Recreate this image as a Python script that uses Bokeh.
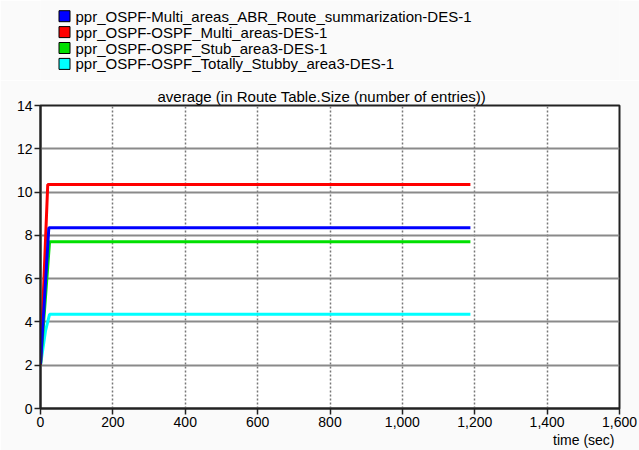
from bokeh.plotting import figure
from bokeh.layouts import column
from bokeh.models import Title, FixedTicker, CustomJSTickFormatter, ColumnDataSource
from bokeh.embed import file_html
from bokeh.resources import INLINE

names = ["ppr_OSPF-Multi_areas_ABR_Route_summarization-DES-1",
         "ppr_OSPF-OSPF_Multi_areas-DES-1",
         "ppr_OSPF-OSPF_Stub_area3-DES-1",
         "ppr_OSPF-OSPF_Totally_Stubby_area3-DES-1"]
colors = ["#0000ff", "#ff0000", "#00e000", "#00ffff"]
title_text = "average (in Route Table.Size (number of entries))"
x_title = "time (sec)"

blue_t = [0, 23, 1188]
blue_v = [2.05, 8.35, 8.35]
red_t = [0, 20, 1188]
red_v = [2.0, 10.35, 10.35]
green_t = [0, 25, 1188]
green_v = [2.0, 7.7, 7.7]
cyan_t = [0, 14, 25, 1188]
cyan_v = [2.0, 3.6, 4.35, 4.35]

xticks = [0, 200, 400, 600, 800, 1000, 1200, 1400, 1600]
yticks = [0, 2, 4, 6, 8, 10, 12, 14]

font = "Liberation Sans"
BG = "#fafafa"
W = 639
ML, MR = 40, 20

# ---- header figure: legend (pixel coordinate space, frame aligned with main plot) ----
TOP_H = 80
top = figure(width=W, height=TOP_H, output_backend="svg", toolbar_location=None,
             x_range=(ML, W - MR), y_range=(TOP_H, 0),
             x_axis_location=None, y_axis_location=None,
             min_border=0, min_border_left=ML, min_border_right=MR)
top.background_fill_color = BG
top.border_fill_color = BG
top.outline_line_color = None
top.grid.visible = False

row_y = [15.7 + 15.9 * i for i in range(len(names))]
leg_src = ColumnDataSource(dict(y=row_y, name=names, color=colors,
                                sx=[64] * len(names), tx=[75] * len(names)))
top.rect(x="sx", y="y", width=11, height=11, width_units="screen", height_units="screen",
         fill_color="color", line_color="black", line_width=1, source=leg_src)
top.text(x="tx", y="y", text="name", source=leg_src, text_baseline="middle",
         text_align="left", text_font={"value": font}, text_font_size="15px", text_color="black")

# ---- main figure ----
p = figure(width=W, height=450 - TOP_H, output_backend="svg", toolbar_location=None,
           x_range=(0, 1600), y_range=(0, 14),
           min_border_left=ML, min_border_right=MR, min_border_top=105 - TOP_H, min_border_bottom=42)
p.background_fill_color = "white"
p.border_fill_color = BG
p.outline_line_color = "#222222"
p.outline_line_width = 2

p.title.text = title_text
p.title.align = "left"
p.title.offset = 117
p.title.text_font = font
p.title.text_font_size = "15px"
p.title.text_font_style = "normal"
p.title.text_color = "black"
p.title.standoff = 2

for ax in (p.xaxis[0], p.yaxis[0]):
    ax.axis_line_color = "#222222"
    ax.axis_line_width = 2
    ax.major_tick_line_color = "#222222"
    ax.major_tick_line_width = 1.5
    ax.major_tick_out = 6
    ax.major_tick_in = 0
    ax.minor_tick_line_color = None
    ax.major_label_text_font = font
    ax.major_label_text_font_size = "14px"
    ax.major_label_text_color = "black"
    ax.major_label_standoff = 2

p.xaxis.ticker = FixedTicker(ticks=xticks)
p.yaxis.ticker = FixedTicker(ticks=yticks)
p.xaxis.formatter = CustomJSTickFormatter(code="return tick.toLocaleString('en-US');")

p.ygrid.grid_line_color = "#8a8a8a"
p.ygrid.grid_line_width = 2
p.xgrid.grid_line_color = "#777777"
p.xgrid.grid_line_width = 1.5
p.xgrid.grid_line_dash = "2 2"

series = [(blue_t, blue_v), (red_t, red_v), (green_t, green_v), (cyan_t, cyan_v)]
for i in [3, 2, 1, 0]:
    t, v = series[i]
    p.line(t, v, line_color=colors[i], line_width=3)

xt = Title(text=x_title, align="right", text_font=font, text_font_size="14px",
           text_font_style="normal", text_color="black", standoff=0, offset=5)
p.add_layout(xt, "below")

layout = column(top, p, spacing=0)
open("out.html", "w").write(file_html(layout, INLINE))
